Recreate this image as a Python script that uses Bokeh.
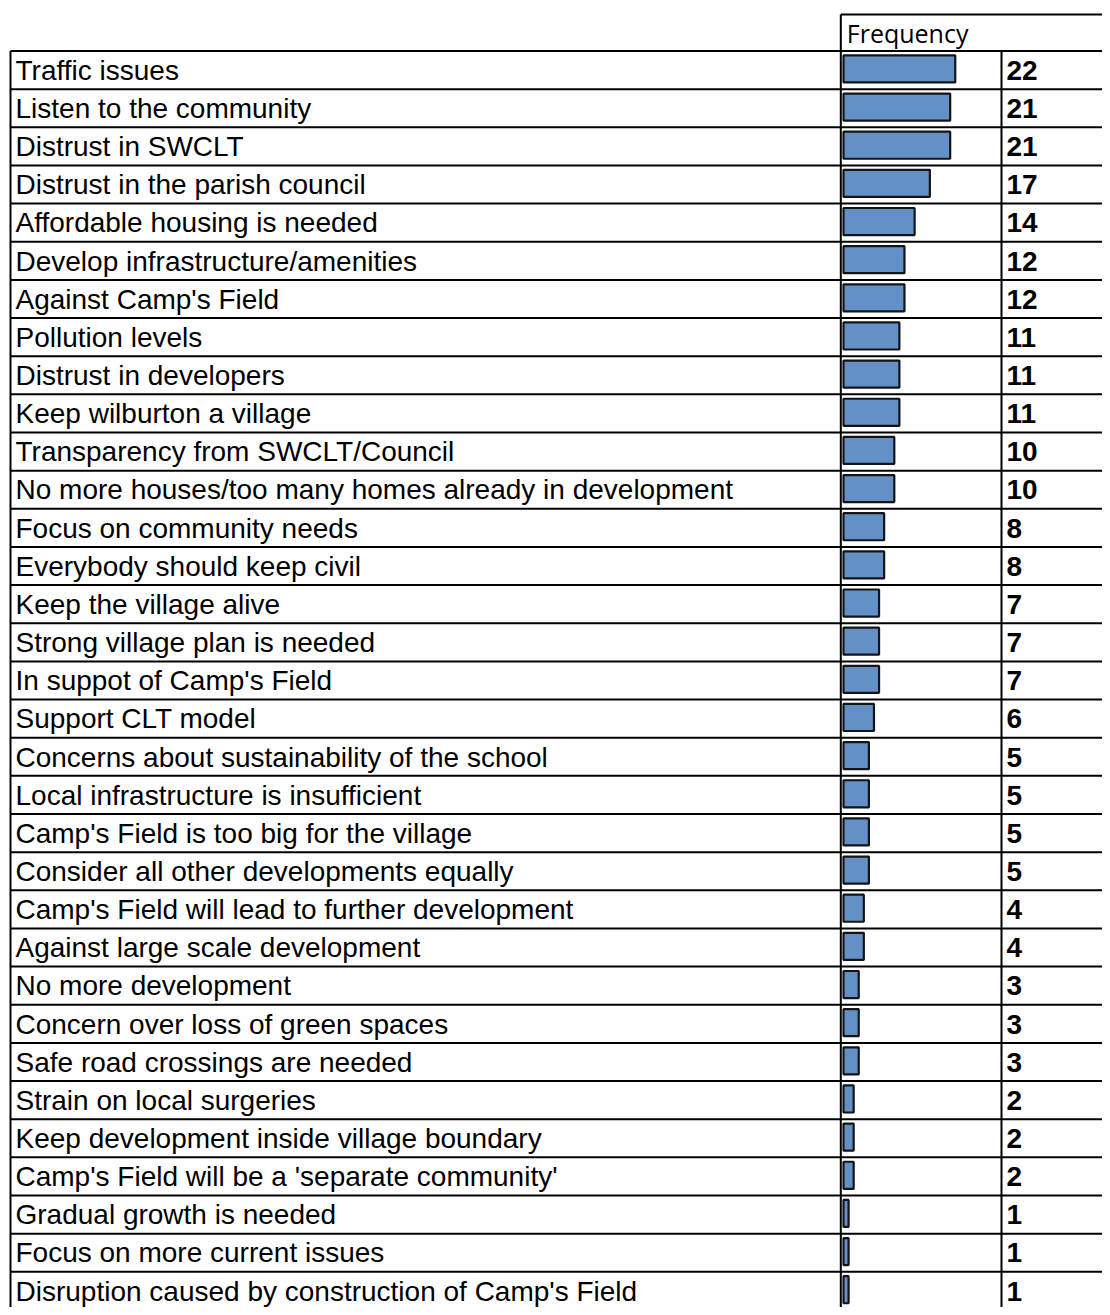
from bokeh.plotting import figure
from bokeh.models import Range1d, ColumnDataSource
from bokeh.core.properties import value
from bokeh.embed import file_html
from bokeh.resources import INLINE

# ---- data ----
labels = [
    "Traffic issues",
    "Listen to the community",
    "Distrust in SWCLT",
    "Distrust in the parish council",
    "Affordable housing is needed",
    "Develop infrastructure/amenities",
    "Against Camp's Field",
    "Pollution levels",
    "Distrust in developers",
    "Keep wilburton a village",
    "Transparency from SWCLT/Council",
    "No more houses/too many homes already in development",
    "Focus on community needs",
    "Everybody should keep civil",
    "Keep the village alive",
    "Strong village plan is needed",
    "In suppot of Camp's Field",
    "Support CLT model",
    "Concerns about sustainability of the school",
    "Local infrastructure is insufficient",
    "Camp's Field is too big for the village",
    "Consider all other developments equally",
    "Camp's Field will lead to further development",
    "Against large scale development",
    "No more development",
    "Concern over loss of green spaces",
    "Safe road crossings are needed",
    "Strain on local surgeries",
    "Keep development inside village boundary",
    "Camp's Field will be a 'separate community'",
    "Gradual growth is needed",
    "Focus on more current issues",
    "Disruption caused by construction of Camp's Field",
]
values = [22, 21, 21, 17, 14, 12, 12, 11, 11, 11, 10, 10, 8, 8, 7, 7, 7, 6,
          5, 5, 5, 5, 4, 4, 3, 3, 3, 2, 2, 2, 1, 1, 1]
header = "Frequency"

# ---- layout (plot pixels for x, row units for y) ----
W, H = 1102, 1307
ROW_H = 38.15
TOP_PX = 50.5
n = len(labels)
y_top = -TOP_PX / ROW_H
y_bot = (H - TOP_PX) / ROW_H

X_LEFT = 10.0
X_COL = 840.3
X_VAL = 1001.0
X_RIGHT = W
HEADER_TOP = (14 - TOP_PX) / ROW_H

BAR_ZERO = 843.0
PX_PER_UNIT = 5.08

TXT_OFF = 0.506
HEADER_Y = (32 - TOP_PX) / ROW_H

p = figure(width=W, height=H, output_backend="svg", toolbar_location=None,
           x_range=Range1d(0, W), y_range=Range1d(y_bot, y_top),
           x_axis_type=None, y_axis_type=None, min_border=0,
           background_fill_color="white", border_fill_color="white")
p.outline_line_color = None
p.grid.visible = False

p.extra_x_ranges = {"freq": Range1d(-BAR_ZERO / PX_PER_UNIT, (W - BAR_ZERO) / PX_PER_UNIT)}

rows = list(range(n))
src = ColumnDataSource(dict(
    label=labels,
    val=values,
    val_txt=[str(v) for v in values],
    bar_y=[r + 0.47 for r in rows],
    txt_y=[r + TXT_OFF for r in rows],
))

# bars
p.hbar(y="bar_y", left=0, right="val", height=0.71, source=src, x_range_name="freq",
       fill_color="#6490C8", line_color="#141414", line_width=2.2)

# table grid lines
hx0 = [X_LEFT] * (n + 1) + [X_COL]
hx1 = [X_RIGHT] * (n + 1) + [X_RIGHT]
hy = [float(r) for r in range(n + 1)] + [HEADER_TOP]
p.segment(x0=hx0, x1=hx1, y0=hy, y1=hy, line_color="black", line_width=2)
p.segment(x0=[X_LEFT, X_COL, X_VAL], x1=[X_LEFT, X_COL, X_VAL],
          y0=[0, HEADER_TOP, 0], y1=[n, n, n], line_color="black", line_width=2)

# labels
p.text(x=X_LEFT + 5, y="txt_y", text="label", source=src,
       text_font=value("Liberation Sans"), text_font_size="28px",
       text_color="black", text_baseline="alphabetic", text_align="left")
# values
p.text(x=X_VAL + 5, y="txt_y", text="val_txt", source=src,
       text_font=value("Liberation Sans"), text_font_size="28px", text_font_style="bold",
       text_color="black", text_baseline="alphabetic", text_align="left")
# header
p.text(x=[X_COL + 6], y=[HEADER_Y], text=[header],
       text_font=value("Open Sans"), text_font_size="25px",
       text_color="black", text_baseline="alphabetic", text_align="left")

open("out.html", "w").write(file_html(p, INLINE))
